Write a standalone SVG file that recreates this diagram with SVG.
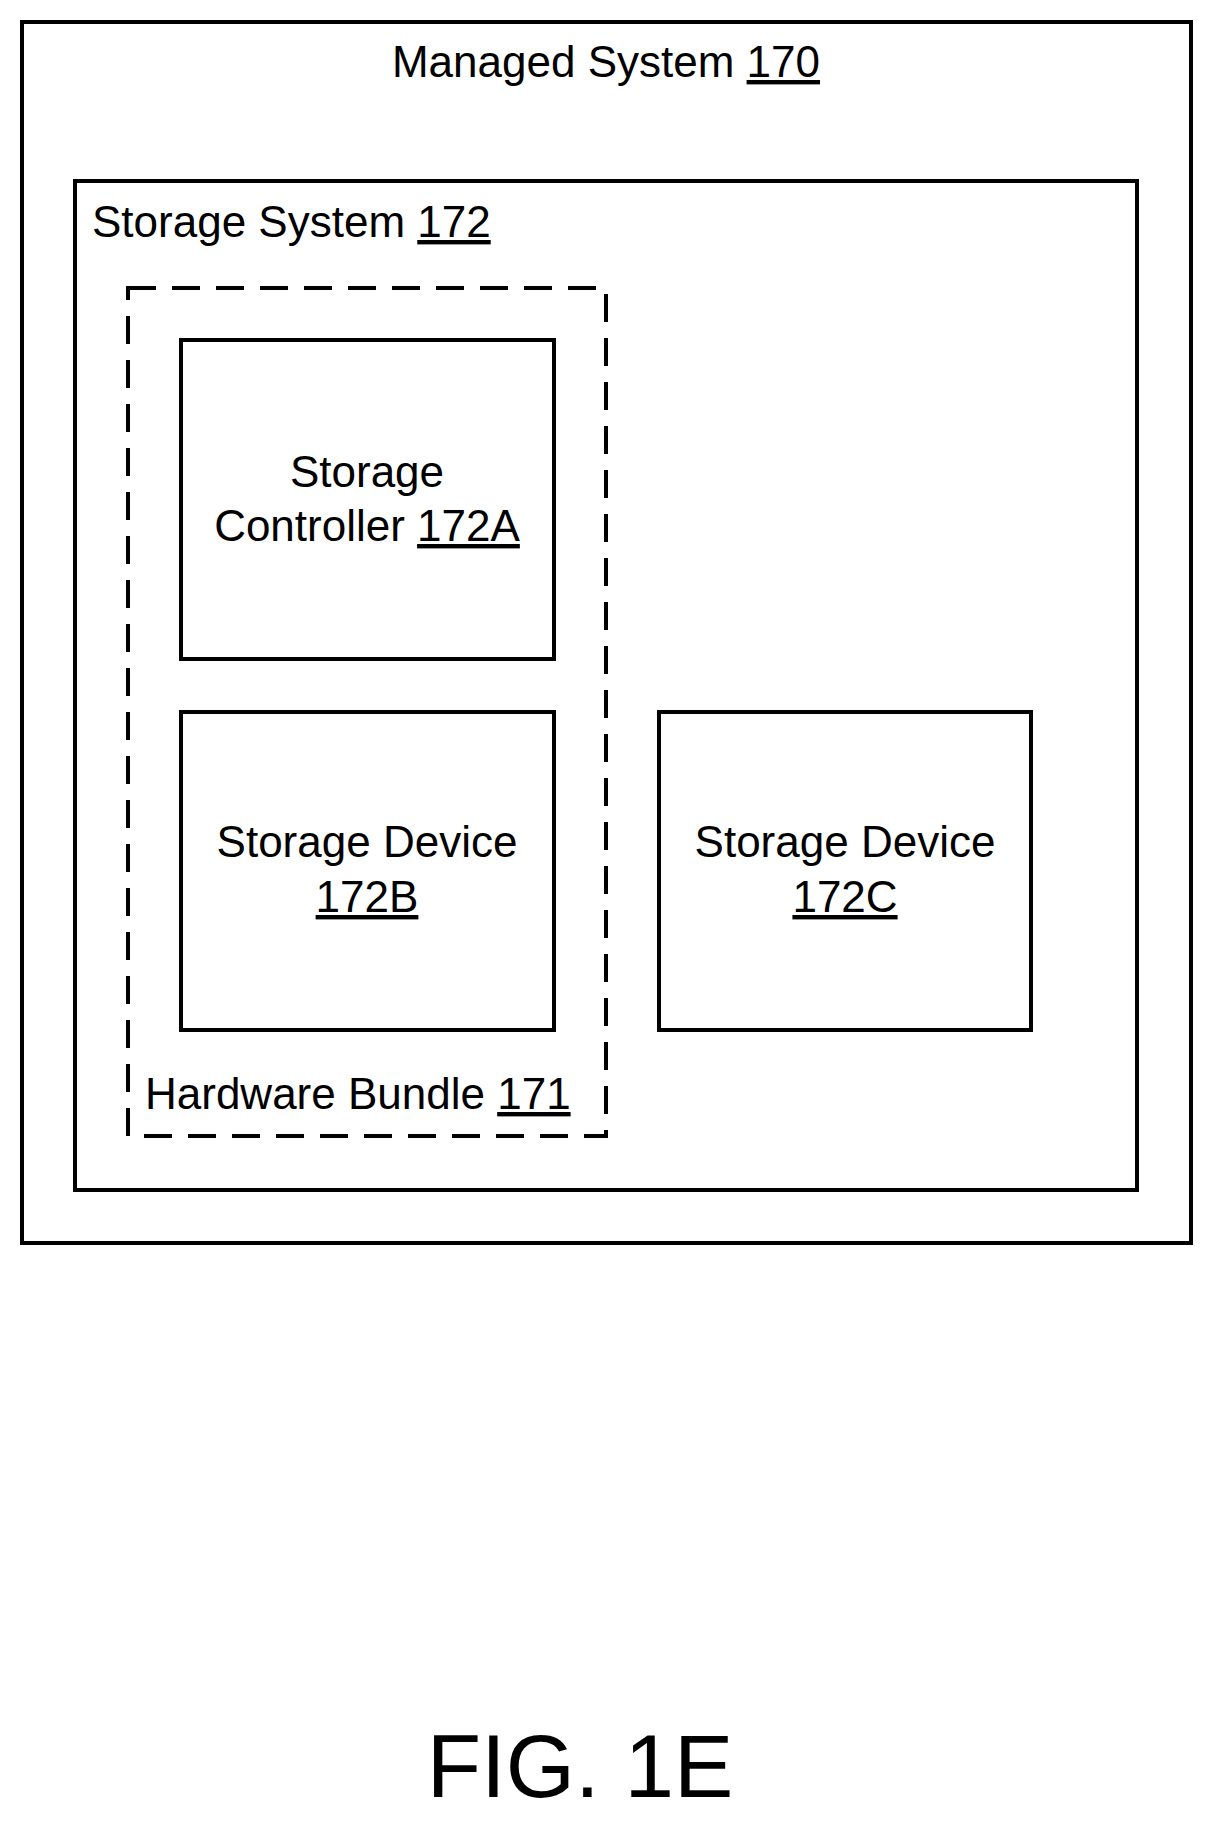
<svg xmlns="http://www.w3.org/2000/svg" width="1215" height="1825" viewBox="0 0 1215 1825">
<style>
.b{fill:none;stroke:#000;stroke-width:4}
.d{fill:none;stroke:#000;stroke-width:4;stroke-dasharray:28,16}
text{font-family:"Liberation Sans",Arial,sans-serif;font-size:44px;fill:#000}
.c{text-anchor:middle}
.u{text-decoration:underline}
</style>
<rect width="1215" height="1825" fill="#fff"/>
<g id="managed-system"><rect class="b" x="22" y="22" width="1169" height="1221"/>
<text class="c" x="606" y="77">Managed System <tspan class="u">170</tspan></text></g>
<g id="storage-system"><rect class="b" x="75" y="181" width="1062" height="1009"/>
<text x="92" y="237">Storage System <tspan class="u">172</tspan></text></g>
<g id="hardware-bundle"><rect class="d" x="128" y="288" width="478" height="848"/>
<text x="145" y="1109">Hardware Bundle <tspan class="u">171</tspan></text></g>
<g id="controller"><rect class="b" x="181" y="340" width="373" height="319"/>
<text class="c" x="367" y="487">Storage</text>
<text class="c" x="367" y="541">Controller <tspan class="u">172A</tspan></text></g>
<g id="device-b"><rect class="b" x="181" y="712" width="373" height="318"/>
<text class="c" x="367" y="857">Storage Device</text>
<text class="c u" x="367" y="912">172B</text></g>
<g id="device-c"><rect class="b" x="659" y="712" width="372" height="318"/>
<text class="c" x="845" y="857">Storage Device</text>
<text class="c u" x="845" y="912">172C</text></g>
<g id="connectors"/>
<text class="c" x="580" y="1797" style="font-size:89px">FIG. 1E</text>
</svg>
